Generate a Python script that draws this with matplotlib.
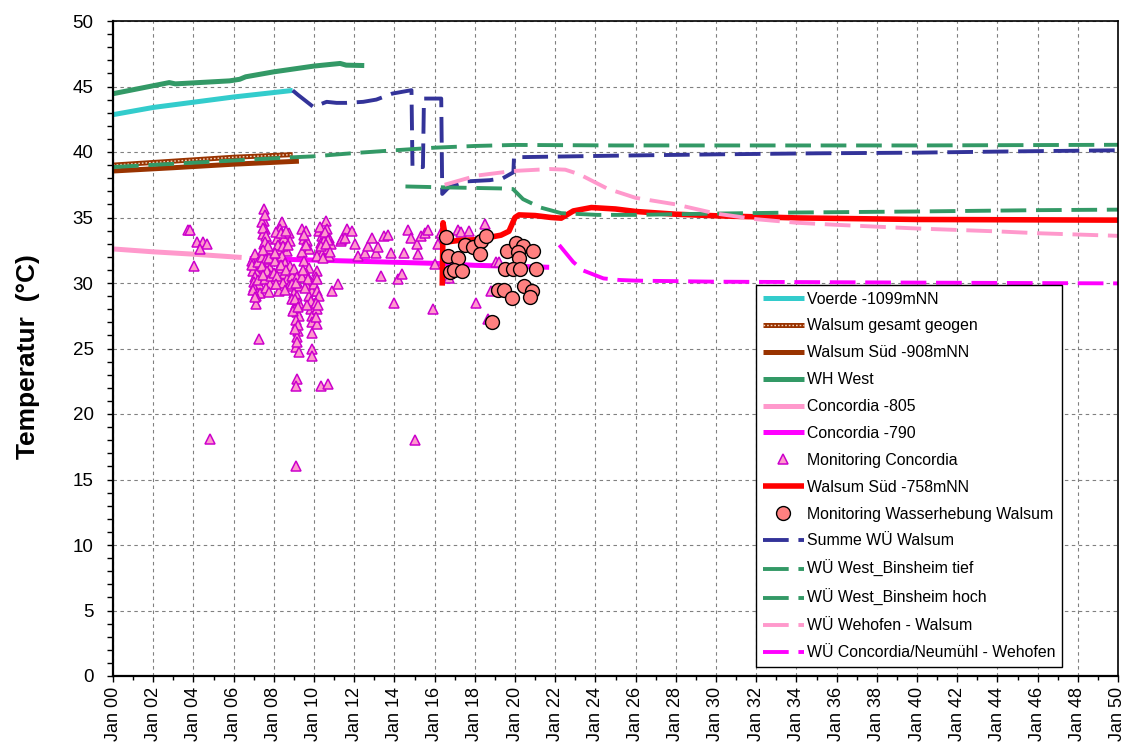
import matplotlib
matplotlib.use('Agg')
import matplotlib.pyplot as plt
from matplotlib.ticker import MultipleLocator, FuncFormatter
from matplotlib.legend_handler import HandlerTuple

plt.rcParams['font.family'] = ['Liberation Sans', 'DejaVu Sans']
plt.rcParams['lines.scale_dashes'] = False

# --- simulated temperatures (decimal year, degC) ---
voerde_x = [2000, 2002, 2004, 2006, 2008.94]
voerde_y = [42.85, 43.4, 43.8, 44.2, 44.7]

walsum_geogen_x = [2000, 2003, 2006, 2008.94]
walsum_geogen_y = [39.0, 39.3, 39.6, 39.8]

walsum_sued908_x = [2000, 2003, 2006, 2009.25]
walsum_sued908_y = [38.55, 38.8, 39.07, 39.3]

wh_west_x = [2000, 2002.8, 2003.1, 2005.8, 2006.3, 2006.6, 2008, 2010, 2011.3, 2011.6, 2012.5]
wh_west_y = [44.45, 45.3, 45.2, 45.43, 45.55, 45.74, 46.12, 46.56, 46.76, 46.63, 46.6]

concordia805_x = [2000, 2002, 2004, 2006.4]
concordia805_y = [32.6, 32.38, 32.2, 31.95]

concordia790_x = [2006.8, 2010, 2016, 2018, 2020, 2021.7]
concordia790_y = [31.87, 31.75, 31.5, 31.35, 31.27, 31.2]

walsum_sued758_x = [2016.38, 2016.42, 2016.55, 2016.7, 2017.2, 2018, 2018.6, 2019.3, 2019.7,
                    2020.0, 2020.2, 2021, 2021.8, 2022.3, 2022.9, 2023.8, 2025, 2026, 2028,
                    2030, 2034, 2040, 2050]
walsum_sued758_y = [29.8, 34.6, 33.4, 33.15, 33.25, 33.3, 33.45, 33.65, 33.95,
                    35.0, 35.2, 35.15, 35.0, 34.95, 35.5, 35.76, 35.65, 35.46, 35.25,
                    35.13, 34.97, 34.85, 34.8]

summe_wu_x = [2008.94, 2009.22, 2009.97, 2010.63, 2011.12, 2011.6, 2012.45, 2013.1, 2013.9,
              2014.85, 2014.9, 2015.42, 2015.47, 2015.75, 2016.33, 2016.38, 2016.7, 2017.5,
              2018.75, 2019.4, 2019.92, 2019.95, 2025, 2030, 2035, 2040, 2045, 2050]
summe_wu_y = [44.7, 44.34, 43.44, 43.83, 43.75, 43.75, 43.83, 44.0, 44.46,
              44.72, 38.85, 38.85, 44.08, 44.08, 44.08, 36.8, 37.3, 37.75,
              37.85, 38.0, 38.45, 39.6, 39.72, 39.82, 39.9, 39.95, 40.05, 40.13]

west_tief_x = [2000, 2003, 2006, 2009, 2010, 2012, 2014, 2016, 2018, 2020, 2025, 2030, 2040, 2050]
west_tief_y = [38.85, 39.1, 39.35, 39.6, 39.67, 39.92, 40.13, 40.33, 40.46, 40.54, 40.5, 40.5, 40.5, 40.55]

west_hoch_x = [2014.55, 2016.5, 2019.25, 2019.9, 2020.4, 2021.25, 2022.3, 2024.1, 2026, 2030,
               2034, 2040, 2046, 2050]
west_hoch_y = [37.37, 37.3, 37.22, 37.17, 36.4, 35.77, 35.33, 35.2, 35.2, 35.3,
               35.38, 35.46, 35.56, 35.6]

wehofen_x = [2016.5, 2018.1, 2019.9, 2021.75, 2022.5, 2023.2, 2024.6, 2026, 2028, 2030, 2032,
             2034, 2036, 2038, 2040, 2044, 2046, 2048, 2050]
wehofen_y = [37.5, 38.2, 38.55, 38.7, 38.65, 38.3, 37.2, 36.5, 36.0, 35.3, 34.87,
             34.6, 34.44, 34.3, 34.16, 33.94, 33.8, 33.7, 33.6]

concordia_neumuehl_x = [2022.2, 2022.9, 2023.4, 2024.4, 2025.2, 2026, 2030, 2040, 2050]
concordia_neumuehl_y = [32.9, 31.6, 30.95, 30.35, 30.23, 30.18, 30.1, 30.03, 29.97]

# --- measured values ---
mon_concordia_x = [
    2003.72, 2003.85, 2004.18, 2004.5, 2004.7, 2004.35, 2004.05, 2004.84, 2015.0,
    2007.0, 2006.92, 2007.08, 2006.97, 2007.17, 2007.08, 2007.0, 2007.25, 2007.03, 2007.17,
    2007.3, 2007.12, 2007.25,
    2006.9, 2007.05, 2007.2, 2007.1, 2006.95, 2007.2, 2007.05,
    2007.53, 2007.5, 2007.42, 2007.58, 2007.47, 2007.67, 2007.5, 2007.75, 2007.58, 2007.42,
    2007.67, 2007.83, 2007.5, 2007.75, 2007.92, 2007.58, 2007.83,
    2007.55, 2007.45, 2007.62, 2007.55, 2007.7, 2007.45, 2007.62, 2007.78, 2007.4, 2007.68,
    2007.48, 2007.88, 2007.62, 2007.75,
    2008.42, 2008.33, 2008.17, 2008.5, 2008.75, 2008.83, 2008.25, 2008.67, 2008.42, 2008.08,
    2008.58, 2008.25, 2008.83, 2008.0, 2008.5, 2008.33, 2008.25, 2008.67, 2008.92,
    2008.1, 2008.38, 2008.6, 2008.2, 2008.45, 2008.72, 2008.05, 2008.35, 2008.6, 2008.15,
    2008.45, 2008.75, 2008.1, 2008.55,
    2009.0, 2009.17, 2008.92, 2009.25, 2009.0, 2009.17, 2008.92, 2009.08, 2009.25, 2009.0,
    2009.17, 2009.25, 2009.13, 2009.2, 2009.17, 2009.08, 2009.25, 2009.17, 2009.08, 2009.08,
    2009.1, 2009.05, 2008.95, 2009.2, 2009.1, 2009.22, 2009.05, 2009.15,
    2009.42, 2009.58, 2009.5, 2009.67, 2009.75, 2009.42, 2009.5, 2009.75, 2009.58, 2009.42,
    2009.83, 2009.67, 2009.92, 2009.75, 2009.83, 2009.92, 2009.92, 2009.92,
    2009.5, 2009.62, 2009.45, 2009.7, 2009.55, 2009.85, 2009.65, 2009.88, 2009.9,
    2010.17, 2010.08, 2010.0, 2010.17, 2010.25, 2010.08, 2010.17, 2010.13, 2010.25, 2010.42,
    2010.58, 2010.67, 2010.75, 2010.33, 2010.5, 2010.25, 2010.67, 2010.42, 2010.75, 2010.13,
    2010.5, 2010.83, 2010.37, 2010.7, 2010.92, 2011.17, 2011.33,
    2010.3, 2010.55, 2010.7, 2010.35, 2010.6, 2010.45, 2010.8, 2010.15, 2010.2, 2010.1,
    2011.62, 2011.87, 2011.37, 2011.54, 2012.03, 2012.2, 2012.53, 2012.7, 2012.9, 2013.07,
    2013.2, 2013.35, 2013.5, 2013.7, 2013.85, 2014.0, 2014.2, 2014.4, 2014.46, 2014.68,
    2014.84, 2015.1, 2015.17, 2015.33, 2015.5, 2015.67, 2015.92, 2016.0, 2016.17, 2016.33,
    2016.74, 2017.16, 2017.33, 2017.7, 2018.07, 2018.5, 2018.64, 2018.8, 2019.06, 2019.2,
]
mon_concordia_y = [
    34.03, 34.03, 33.1, 33.1, 32.96, 32.6, 31.26, 18.08, 18.0,
    31.95, 31.69, 31.31, 30.93, 30.8, 30.42, 30.04, 29.91, 29.66, 29.27,
    29.27, 28.38, 25.71,
    31.4, 32.2, 31.6, 29.0, 29.5, 30.2, 28.9,
    35.64, 34.75, 34.62, 34.11, 33.73, 33.35, 32.96, 32.58, 32.2, 31.95,
    31.56, 31.18, 31.18, 30.67, 30.17, 30.29, 29.91,
    35.2, 34.2, 33.6, 33.1, 32.8, 32.5, 31.8, 31.9, 31.3, 30.9,
    30.6, 30.5, 29.6, 29.3,
    34.62, 34.11, 33.35, 33.47, 33.85, 33.22, 32.58, 32.46, 32.07, 31.69,
    31.56, 31.18, 31.31, 30.8, 30.67, 30.17, 29.4, 30.29, 30.55,
    33.9, 33.8, 34.0, 32.9, 32.8, 32.9, 32.3, 31.4, 31.0, 30.5,
    30.0, 29.8, 29.9, 29.5,
    31.06, 30.42, 29.91, 29.78, 29.27, 29.02, 28.77, 28.38, 28.51, 28.0,
    27.75, 27.49, 26.86, 26.35, 25.84, 25.08, 24.75, 22.66, 22.15, 16.04,
    30.0, 28.8, 27.9, 28.2, 27.2, 26.8, 26.5, 25.5,
    34.11, 33.98, 33.35, 33.22, 32.58, 32.33, 31.69, 31.18, 30.8, 30.42,
    30.04, 29.78, 29.4, 29.02, 28.0, 26.22, 24.95, 24.44,
    33.7, 32.9, 31.0, 30.3, 29.6, 28.6, 28.3, 27.5, 27.0,
    30.93, 30.42, 29.91, 29.4, 29.02, 28.51, 28.0, 26.86, 33.98, 33.6,
    34.75, 34.11, 33.47, 33.09, 32.84, 32.46, 32.58, 32.2, 32.07, 32.07,
    33.22, 32.96, 22.15, 22.28, 29.4, 29.91, 33.22,
    34.3, 33.9, 33.3, 32.8, 33.0, 31.9, 32.4, 30.3, 28.3, 27.4,
    34.1, 33.98, 33.35, 33.4, 32.96, 32.07, 32.3, 32.84, 33.47, 32.3,
    32.76, 30.55, 33.6, 33.7, 32.3, 28.5, 30.3, 30.67, 32.3, 34.03,
    33.47, 32.96, 32.25, 33.6, 33.85, 34.03, 28.05, 31.44, 32.96, 33.85,
    30.4, 34.03, 33.93, 33.98, 28.44, 34.5, 27.24, 29.4, 31.6, 31.6,
]

mon_walsum_x = [2016.55, 2016.66, 2017.16, 2016.76, 2016.96, 2017.37, 2017.53, 2017.92, 2018.31,
                2018.56, 2018.27, 2019.62, 2020.06, 2020.38, 2020.13, 2020.19, 2020.92, 2019.52,
                2019.9, 2020.25, 2021.04, 2019.14, 2019.47, 2019.87, 2020.46, 2020.84, 2020.77,
                2018.86]
mon_walsum_y = [33.53, 32.08, 31.9, 30.87, 30.98, 30.94, 32.93, 32.77, 33.2,
                33.6, 32.2, 32.46, 33.02, 32.84, 32.34, 31.93, 32.46, 31.1,
                31.07, 31.07, 31.07, 29.5, 29.46, 28.88, 29.8, 29.42, 28.93,
                27.0]

year_ticks = list(range(2000, 2051, 2))
temp_ticks = list(range(0, 51, 5))

fig = plt.figure(figsize=(11.27, 7.43), dpi=100)
ax = fig.add_axes([113 / 1127, 1 - 676 / 743, 1005 / 1127, 655 / 743])

lw_solid = 3.6
lw_dash = 2.8
dash = (18.5, 7)

h_voerde, = ax.plot(voerde_x, voerde_y, color='#33CCCC', lw=lw_solid, solid_capstyle='butt')
h_geo1, = ax.plot(walsum_geogen_x, walsum_geogen_y, color='#993300', lw=lw_solid, solid_capstyle='butt')
h_geo2, = ax.plot(walsum_geogen_x, walsum_geogen_y, color='#F5D6C0', lw=1.0,
                  linestyle=(0, (1.2, 1.4)))
h_s908, = ax.plot(walsum_sued908_x, walsum_sued908_y, color='#993300', lw=lw_solid, solid_capstyle='butt')
h_whw, = ax.plot(wh_west_x, wh_west_y, color='#339966', lw=lw_solid, solid_capstyle='butt')
h_c805, = ax.plot(concordia805_x, concordia805_y, color='#FF99CC', lw=lw_solid, solid_capstyle='butt')
h_c790, = ax.plot(concordia790_x, concordia790_y, color='#FF00FF', lw=lw_solid, solid_capstyle='butt')
h_mc, = ax.plot(mon_concordia_x, mon_concordia_y, linestyle='none', marker='^', markersize=7,
                markerfacecolor='#FF99CC', markeredgecolor='#CC00CC', markeredgewidth=1.1)
h_s758, = ax.plot(walsum_sued758_x, walsum_sued758_y, color='#FF0000', lw=lw_solid + 0.4,
                  solid_capstyle='butt')
h_mw, = ax.plot(mon_walsum_x, mon_walsum_y, linestyle='none', marker='o', markersize=10,
                markerfacecolor='#FF8080', markeredgecolor='black', markeredgewidth=1.0)
h_sum, = ax.plot(summe_wu_x, summe_wu_y, color='#333399', lw=lw_dash, dashes=dash)
h_tief, = ax.plot(west_tief_x, west_tief_y, color='#339966', lw=lw_dash, dashes=dash)
h_hoch, = ax.plot(west_hoch_x, west_hoch_y, color='#339966', lw=lw_dash, dashes=dash)
h_weh, = ax.plot(wehofen_x, wehofen_y, color='#FF99CC', lw=lw_dash, dashes=dash)
h_cn, = ax.plot(concordia_neumuehl_x, concordia_neumuehl_y, color='#FF00FF', lw=lw_dash, dashes=dash)

ax.set_xlim(2000, 2050)
ax.set_ylim(0, 50)
ax.set_xticks(year_ticks)
ax.xaxis.set_minor_locator(MultipleLocator(1))
ax.xaxis.set_major_formatter(FuncFormatter(lambda v, p: 'Jan %02d' % (int(round(v)) % 100)))
ax.set_yticks(temp_ticks)
ax.yaxis.set_minor_locator(MultipleLocator(1))

ax.tick_params(axis='x', which='major', labelsize=13, rotation=90, direction='out',
               length=4, width=1, pad=4)
ax.tick_params(axis='x', which='minor', direction='out', length=3, width=1)
ax.tick_params(axis='y', which='major', labelsize=13.5, direction='out', length=4, width=1, pad=10)
ax.tick_params(axis='y', which='minor', direction='out', length=4, width=1)

ax.grid(True, which='major', color='#808080', linestyle=(0, (2.5, 2.5)), linewidth=0.8)
ax.set_axisbelow(True)
for side in ['left', 'bottom']:
    ax.spines[side].set_linewidth(1.6)
for side in ['top', 'right']:
    ax.spines[side].set_linewidth(1.2)

ax.set_ylabel('Temperatur  (°C)', fontsize=19, fontweight='bold')
ax.yaxis.set_label_coords(-0.073, 0.487)

handles = [h_voerde, (h_geo1, h_geo2), h_s908, h_whw, h_c805, h_c790, h_mc, h_s758, h_mw,
           h_sum, h_tief, h_hoch, h_weh, h_cn]
labels = ['Voerde -1099mNN', 'Walsum gesamt geogen', 'Walsum Süd -908mNN', 'WH West',
          'Concordia -805', 'Concordia -790', 'Monitoring Concordia', 'Walsum Süd -758mNN',
          'Monitoring Wasserhebung Walsum', 'Summe WÜ Walsum', 'WÜ West_Binsheim tief',
          'WÜ West_Binsheim hoch', 'WÜ Wehofen - Walsum', 'WÜ Concordia/Neumühl - Wehofen']
leg = ax.legend(handles, labels, loc='upper left', bbox_to_anchor=(0.64, 0.597),
                fontsize=11.4, frameon=True, fancybox=False, framealpha=1,
                edgecolor='black', borderaxespad=0, handlelength=2.6, handletextpad=0.2,
                labelspacing=0.75, borderpad=0.42, markerscale=1.0,
                handler_map={tuple: HandlerTuple(ndivide=1)})
leg.get_frame().set_linewidth(1.0)

fig.savefig('out.png', dpi=100)
